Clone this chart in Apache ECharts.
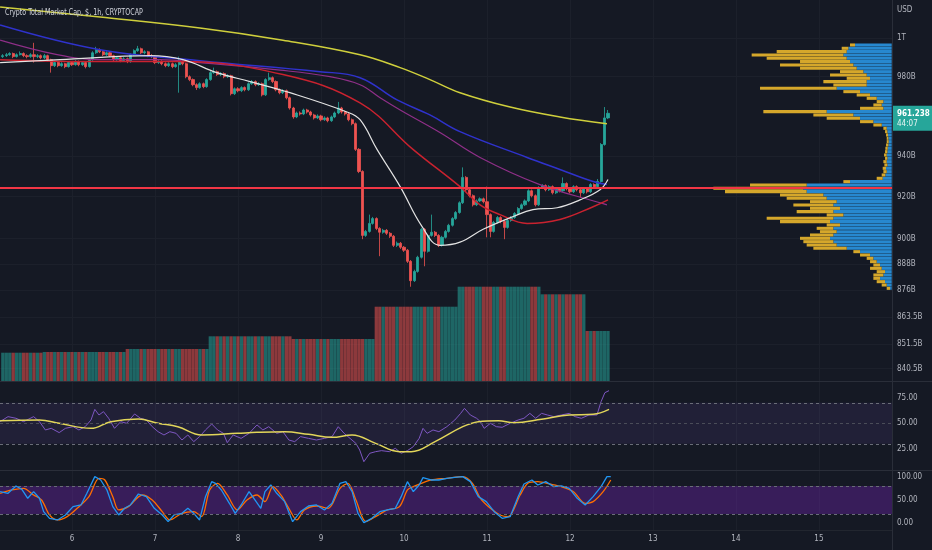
<!DOCTYPE html>
<html>
<head>
<meta charset="utf-8">
<title>Crypto Total Market Cap, $, 1h</title>
<script src="https://cdn.jsdelivr.net/npm/echarts@6/dist/echarts.min.js"></script>
<style>
html, body { margin: 0; padding: 0; background: #151924; }
#chart { width: 932px; height: 550px; }
</style>
</head>
<body>
<div id="chart"></div>
<script>
// hourly candles, hour 0 = day 6 00:00, values in billions USD
const firstHour = -20;
const opens = [
  990.3, 990.8, 991.3, 991.9, 990.3, 991.3, 991.9, 990.8, 990.3, 991.3,
  990.3, 990.8, 989.7, 990.8, 988.7, 985.6, 987.2, 985.6, 986.6, 985.1,
  987.2, 986.1, 987.7, 986.1, 987.2, 985.1, 988.7, 992.3, 993.9, 992.8,
  991.3, 992.3, 990.8, 988.7, 989.7, 988.2, 989.2, 987.7, 991.3, 993.4,
  994.4, 992.3, 992.8, 990.8, 990.3, 987.2, 987.7, 986.6, 985.6, 986.6,
  985.1, 986.1, 987.7, 986.6, 979.9, 978.4, 975.8, 974.3, 976.3, 974.8,
  978.4, 982.0, 982.5, 981.0, 981.5, 979.9, 980.4, 971.2, 973.7, 972.7,
  974.3, 973.2, 976.3, 977.4, 975.8, 976.3, 970.6, 978.4, 979.4, 977.4,
  973.2, 971.7, 972.7, 969.1, 963.9, 959.4, 961.4, 960.9, 962.9, 961.9,
  960.4, 958.9, 959.9, 958.0, 958.9, 957.5, 959.4, 961.4, 963.9, 961.9,
  960.9, 958.0, 956.0, 943.2, 932.3, 901.5, 903.4, 907.2, 909.5, 904.8,
  903.0, 903.9, 902.5, 901.1, 896.8, 897.8, 895.9, 894.5, 889.3, 880.3,
  884.6, 891.2, 904.4, 894.0, 901.5, 903.0, 901.5, 896.8, 900.6, 903.4,
  906.3, 909.5, 912.4, 917.1, 929.4, 923.4, 920.5, 916.1, 918.0, 919.0,
  917.6, 911.4, 903.4, 907.7, 910.0, 908.1, 905.3, 908.6, 910.0, 911.9,
  914.3, 916.1, 918.0, 922.9, 920.5, 916.1, 924.4, 925.4, 923.4, 924.9,
  921.9, 923.9, 922.9, 926.4, 923.9, 922.4, 924.9, 923.4, 921.9, 923.9,
  922.4, 925.9, 924.9, 927.4, 945.6, 958.9
];
const closes = [
  990.8, 991.3, 991.9, 990.3, 991.3, 991.9, 990.8, 990.3, 991.3, 990.3,
  990.8, 989.7, 990.8, 988.7, 985.6, 987.2, 985.6, 986.6, 985.1, 987.2,
  986.1, 987.7, 986.1, 987.2, 985.1, 988.7, 992.3, 993.9, 992.8, 991.3,
  992.3, 990.8, 988.7, 989.7, 988.2, 989.2, 987.7, 991.3, 993.4, 994.4,
  992.3, 992.8, 990.8, 990.3, 987.2, 987.7, 986.6, 985.6, 986.6, 985.1,
  986.1, 987.7, 986.6, 979.9, 978.4, 975.8, 974.3, 976.3, 974.8, 978.4,
  982.0, 982.5, 981.0, 981.5, 979.9, 980.4, 971.2, 973.7, 972.7, 974.3,
  973.2, 976.3, 977.4, 975.8, 976.3, 970.6, 978.4, 979.4, 977.4, 973.2,
  971.7, 972.7, 969.1, 963.9, 959.4, 961.4, 960.9, 962.9, 961.9, 960.4,
  958.9, 959.9, 958.0, 958.9, 957.5, 959.4, 961.4, 963.9, 961.9, 960.9,
  958.0, 956.0, 943.2, 932.3, 901.5, 903.4, 907.2, 909.5, 904.8, 903.0,
  903.9, 902.5, 901.1, 896.8, 897.8, 895.9, 894.5, 889.3, 880.3, 884.6,
  891.2, 904.4, 894.0, 901.5, 903.0, 901.5, 896.8, 900.6, 903.4, 906.3,
  909.5, 912.4, 917.1, 929.4, 923.4, 920.5, 916.1, 918.0, 919.0, 917.6,
  911.4, 903.4, 907.7, 910.0, 908.1, 905.3, 908.6, 910.0, 911.9, 914.3,
  916.1, 918.0, 922.9, 920.5, 916.1, 924.4, 925.4, 923.4, 924.9, 921.9,
  923.9, 922.9, 926.4, 923.9, 922.4, 924.9, 923.4, 921.9, 923.9, 922.4,
  925.9, 924.9, 927.4, 945.6, 958.9, 961.238
];
const highs = [
  991.6, 992.2, 992.6, 992.4, 992.0, 993.0, 992.5, 991.5, 992.1, 997.5,
  991.6, 991.4, 991.7, 991.3, 989.2, 987.9, 987.8, 987.4, 987.1, 987.9,
  987.8, 988.5, 988.3, 988.0, 987.9, 989.4, 993.1, 995.4, 994.6, 993.4,
  993.0, 992.9, 991.3, 990.5, 990.3, 990.0, 989.8, 992.0, 994.1, 995.9,
  995.0, 993.6, 993.3, 991.6, 990.9, 988.5, 988.4, 987.3, 987.4, 987.2,
  986.9, 990.3, 988.4, 987.1, 980.6, 979.0, 976.5, 977.0, 976.9, 979.1,
  982.8, 984.6, 983.1, 982.3, 982.1, 981.2, 980.9, 974.4, 974.5, 975.0,
  974.9, 977.0, 978.2, 978.0, 977.1, 976.9, 979.1, 982.0, 980.0, 978.0,
  973.9, 973.5, 973.3, 969.7, 964.5, 962.1, 962.2, 963.6, 963.5, 962.5,
  961.0, 960.7, 960.5, 959.7, 959.5, 960.1, 962.1, 967.0, 964.5, 962.6,
  961.5, 958.6, 956.6, 943.8, 932.9, 904.1, 911.4, 910.3, 910.1, 905.4,
  904.6, 904.5, 903.1, 901.7, 898.6, 898.4, 896.5, 895.1, 889.9, 885.4,
  891.9, 905.1, 905.0, 902.2, 911.4, 903.6, 902.1, 901.3, 904.1, 907.0,
  910.2, 913.1, 917.8, 934.3, 930.0, 924.0, 921.1, 918.7, 919.7, 919.6,
  924.9, 912.0, 908.4, 910.7, 910.6, 908.7, 909.3, 910.7, 912.6, 915.0,
  916.8, 918.7, 923.6, 923.5, 921.1, 925.1, 926.1, 926.0, 925.6, 925.5,
  924.6, 924.5, 929.4, 927.0, 924.5, 925.6, 925.5, 924.0, 924.6, 924.5,
  926.6, 926.5, 928.6, 946.3, 964.4, 962.9
];
const lows = [
  989.6, 990.1, 990.7, 989.5, 989.8, 990.9, 990.0, 989.4, 989.7, 987.2,
  989.5, 988.9, 989.0, 987.9, 982.0, 984.9, 984.8, 985.0, 984.3, 984.6,
  985.4, 985.6, 985.3, 985.5, 984.2, 984.6, 988.1, 991.7, 992.1, 990.6,
  990.7, 990.1, 987.9, 988.1, 987.4, 987.6, 986.9, 987.1, 990.7, 992.8,
  991.6, 991.5, 990.0, 989.5, 986.4, 986.5, 985.8, 984.8, 984.9, 984.3,
  984.5, 971.7, 985.8, 979.1, 977.6, 975.0, 973.1, 973.7, 974.0, 974.2,
  977.8, 981.3, 980.3, 980.2, 979.1, 979.2, 970.3, 970.5, 971.9, 972.0,
  972.4, 972.6, 975.7, 975.0, 975.1, 969.8, 970.0, 977.8, 976.6, 972.4,
  970.9, 971.0, 968.3, 963.1, 958.5, 958.8, 960.1, 960.3, 961.1, 959.6,
  958.1, 958.3, 957.2, 957.4, 956.7, 956.9, 958.8, 960.8, 961.1, 960.1,
  957.2, 955.2, 942.4, 931.5, 899.7, 900.8, 902.8, 906.6, 904.0, 891.7,
  902.3, 901.7, 900.3, 896.0, 896.0, 895.1, 893.7, 888.5, 877.5, 879.7,
  884.0, 890.6, 887.0, 893.4, 900.9, 900.7, 896.0, 896.2, 900.0, 902.8,
  905.7, 908.9, 911.8, 916.5, 922.6, 919.7, 915.3, 915.5, 917.4, 916.8,
  900.6, 900.6, 902.8, 907.1, 907.3, 899.7, 904.7, 908.0, 909.4, 911.3,
  913.7, 915.5, 917.4, 919.7, 915.3, 915.5, 923.8, 922.6, 922.8, 921.1,
  921.3, 922.1, 922.3, 923.1, 921.6, 921.8, 922.6, 919.5, 921.3, 921.6,
  921.8, 924.1, 924.3, 926.8, 945.0, 958.3
];

// stepped volume columns: first hour of each block and its value
const periodStarts = [-20, -8, 16, 40, 64, 88, 112, 136, 149];
const periodVolume = [56.6, 58.0, 64.0, 89.4, 84.0, 148.6, 188.6, 173.4, 100.0];

// moving averages [hour, price]
const yellowMA = [[-20.8, 1016.4], [8.1, 1011.1], [37.0, 1005.3], [61.0, 998.9], [83.3, 991.3], [94.9, 984.6],
  [103.5, 978.4], [112.2, 971.7], [126.7, 964.4], [141.1, 959.4], [154.7, 956.0]];
const blueMA = [[-20.8, 1006.9], [8.1, 993.9], [37.0, 988.2], [71.7, 982.5], [83.3, 979.4], [94.0, 968.0],
  [103.5, 960.4], [112.2, 952.0], [131.6, 939.2], [141.1, 933.3], [150.7, 927.4], [154.7, 925.9]];
const purpleMA = [[-20.8, 998.9], [-4.3, 991.3], [8.1, 988.7], [25.4, 988.7], [37.0, 987.2], [60.2, 983.3],
  [74.6, 979.9], [83.3, 975.8], [89.1, 969.1], [94.9, 962.9], [106.4, 951.6], [118.0, 939.2], [135.3, 925.9],
  [152.7, 917.1], [154.7, 916.1]];
const redMA = [[-20.8, 988.7], [8.1, 987.7], [31.2, 987.7], [61.0, 981.0], [83.3, 966.5], [98.6, 943.2],
  [112.2, 924.9], [118.0, 916.1], [123.8, 911.4], [131.6, 907.2], [141.1, 909.1], [150.7, 915.2], [155.0, 918.5]];
const whiteMA = [[-20.8, 987.2], [-3.5, 988.7], [22.6, 990.8], [32.1, 988.7], [41.9, 982.0], [51.5, 977.4],
  [63.0, 971.7], [79.5, 961.9], [83.3, 958.0], [88.2, 943.2], [94.9, 924.9], [101.2, 905.8], [106.4, 896.8],
  [112.2, 898.3], [118.9, 904.4], [127.6, 910.5], [133.3, 913.8], [140.3, 914.7], [146.9, 918.5],
  [152.7, 923.4], [155.0, 928.4]];

const supportLevel = 924.2;
const lastPrice = 961.238;
const countdown = '44:07';

// RSI and its average [hour, value]
const rsiLine = [[-20.8, 51.6], [-18.5, 56.5], [-16.2, 54.9], [-14.0, 51.6], [-11.1, 56.5], [-9.4, 51.6],
  [-7.7, 43.5], [-6.0, 45.1], [-3.7, 40.9], [-1.9, 45.1], [0.3, 46.7], [2.0, 43.5], [3.8, 46.7], [5.5, 53.2],
  [6.6, 63.6], [7.8, 58.1], [9.1, 61.4], [10.6, 54.9], [12.3, 45.1], [14.1, 51.6], [15.8, 50.0], [18.1, 59.1],
  [19.8, 54.9], [21.5, 53.2], [23.2, 46.7], [24.9, 41.8], [26.6, 38.6], [28.3, 41.8], [30.1, 40.2], [31.8, 33.7],
  [33.5, 38.6], [35.2, 32.1], [36.9, 37.0], [38.6, 43.5], [40.4, 49.3], [42.1, 43.5], [43.8, 40.2], [44.9, 31.1],
  [46.6, 38.6], [48.9, 35.3], [51.2, 40.2], [53.5, 48.4], [55.2, 43.5], [56.9, 46.7], [59.2, 40.2], [61.0, 41.8],
  [62.7, 33.7], [64.4, 32.1], [66.1, 37.0], [68.4, 35.3], [70.7, 33.7], [73.0, 35.3], [75.2, 37.0], [77.0, 46.7],
  [78.7, 40.2], [80.4, 35.3], [82.1, 30.4], [83.2, 23.9], [84.4, 12.5], [86.1, 20.7], [87.8, 22.3], [89.5, 23.3],
  [91.8, 22.3], [93.5, 25.6], [95.2, 20.7], [97.0, 23.3], [98.7, 27.2], [100.4, 35.3], [101.5, 45.1], [102.7, 40.2],
  [104.4, 43.5], [106.1, 41.8], [108.4, 46.7], [110.7, 53.2], [112.4, 59.7], [113.5, 64.6], [115.2, 58.1],
  [117.0, 54.9], [118.1, 51.6], [119.2, 45.1], [121.0, 50.0], [122.7, 46.7], [124.4, 46.1], [126.7, 50.0],
  [129.0, 53.2], [130.7, 54.9], [132.4, 59.7], [134.1, 54.9], [135.8, 59.7], [137.5, 58.1], [139.3, 56.5],
  [141.5, 58.1], [143.8, 59.7], [145.5, 56.5], [147.3, 54.9], [149.5, 58.1], [151.8, 58.1], [153.0, 71.1],
  [154.1, 79.9], [155.3, 81.9]];
const rsiAverage = [[-20.8, 52.6], [-9.4, 53.2], [-3.7, 50.0], [5.5, 45.1], [11.2, 51.6], [19.2, 54.2],
  [24.9, 50.0], [30.6, 46.7], [37.5, 38.6], [47.8, 40.2], [53.5, 41.2], [61.5, 41.8], [68.4, 39.2], [75.2, 36.3],
  [81.0, 38.6], [87.8, 30.4], [94.7, 22.3], [98.1, 22.3], [105.0, 32.1], [113.0, 46.7], [117.5, 51.6],
  [123.3, 52.6], [127.8, 50.6], [135.8, 53.9], [143.8, 58.1], [150.7, 58.8], [155.3, 63.6]];

// stochastic %K and %D [hour, value]
const stochK = [[-20.8, 67.8], [-18.5, 64.3], [-16.2, 80.0], [-14.5, 72.8], [-12.8, 53.6], [-11.1, 67.8],
  [-9.4, 53.6], [-8.2, 25.0], [-6.5, 10.7], [-4.2, 7.2], [-1.9, 17.9], [0.3, 35.7], [2.6, 39.3], [4.3, 64.3],
  [6.6, 100.0], [8.3, 92.8], [10.1, 71.4], [11.8, 35.7], [13.5, 17.9], [15.2, 32.2], [16.9, 39.3], [19.2, 62.8],
  [21.5, 57.1], [23.8, 32.2], [26.1, 17.9], [27.8, 3.6], [29.5, 17.9], [31.8, 21.4], [33.5, 32.2], [35.2, 21.4],
  [36.9, 7.2], [38.6, 57.1], [40.4, 89.3], [41.5, 85.7], [43.2, 71.4], [45.5, 42.9], [47.2, 21.4], [48.9, 39.3],
  [51.2, 67.8], [52.9, 50.0], [54.6, 32.2], [55.8, 67.8], [57.5, 82.1], [59.2, 64.3], [61.5, 46.4], [63.8, 3.6],
  [66.1, 25.0], [68.4, 37.1], [70.7, 39.3], [73.0, 28.6], [75.2, 42.9], [77.5, 85.7], [79.2, 89.3], [81.0, 67.8],
  [82.7, 21.4], [84.4, 1.5], [86.7, 10.7], [89.0, 25.0], [91.2, 28.6], [93.5, 32.2], [95.2, 57.1], [97.0, 89.3],
  [98.7, 67.8], [100.4, 82.1], [101.5, 97.8], [103.8, 92.8], [106.1, 92.8], [108.4, 96.4], [110.7, 98.5],
  [113.0, 100.0], [115.2, 89.3], [117.5, 57.1], [119.8, 46.4], [122.1, 25.0], [124.4, 10.7], [126.7, 14.3],
  [129.0, 57.1], [130.7, 84.3], [133.0, 92.8], [134.7, 82.1], [137.0, 89.3], [139.3, 78.6], [141.5, 80.0],
  [143.8, 75.0], [146.1, 53.6], [148.4, 39.3], [150.7, 57.1], [153.0, 78.6], [154.7, 100.0], [155.8, 100.0]];
const stochD = [[-20.8, 64.3], [-17.4, 71.4], [-14.0, 75.0], [-11.1, 60.7], [-8.8, 50.0], [-6.5, 17.9],
  [-4.2, 7.2], [-1.4, 14.3], [1.5, 32.2], [4.9, 57.1], [7.8, 96.4], [9.5, 92.8], [11.8, 57.1], [13.5, 28.6],
  [16.3, 35.7], [20.3, 60.7], [23.2, 50.0], [26.1, 25.0], [28.3, 7.2], [31.8, 21.4], [35.2, 25.0], [37.5, 14.3],
  [39.8, 71.4], [42.1, 85.7], [44.9, 60.7], [47.8, 28.6], [50.6, 50.0], [53.5, 60.7], [55.8, 46.4], [58.1, 78.6],
  [60.4, 60.7], [62.7, 32.2], [65.0, 7.2], [67.2, 28.6], [70.7, 37.1], [74.1, 32.2], [77.5, 75.0], [79.8, 85.7],
  [82.1, 50.0], [85.0, 3.6], [87.8, 14.3], [91.2, 28.6], [94.7, 35.7], [97.0, 71.4], [98.7, 78.6], [101.0, 85.7],
  [103.8, 92.8], [108.4, 96.4], [113.0, 100.0], [115.8, 85.7], [118.1, 53.6], [121.0, 32.2], [123.8, 17.9],
  [126.1, 14.3], [129.6, 60.7], [131.8, 85.7], [134.7, 89.3], [138.1, 84.3], [141.5, 78.6], [145.0, 67.8],
  [148.4, 42.9], [150.7, 46.4], [153.6, 67.8], [155.8, 92.8]];

// visible range volume profile, rows from top (about 997B) to bottom (about 876B)
const vpUp = [110, 130, 135, 145, 135, 125, 115, 105, 85, 75, 65, 75, 75, 165, 95, 65, 45, 25, 30, 25,
  195, 115, 95, 55, 30, 15, 13, 11, 10, 9, 10, 12, 13, 15, 13, 15, 13, 17, 15, 19,
  27, 125, 255, 265, 255, 205, 195, 165, 175, 155, 175, 145, 175, 185, 155, 175, 165, 175, 185, 175,
  165, 135, 95, 65, 55, 45, 35, 30, 20, 25, 35, 20, 15, 5];
const vpDown = [15, 20, 210, 275, 240, 150, 220, 170, 70, 110, 70, 130, 100, 230, 50, 40, 30, 20, 25, 70,
  190, 120, 100, 40, 25, 10, 7, 6, 5, 6, 7, 7, 7, 8, 7, 10, 9, 10, 10, 11,
  18, 20, 170, 270, 245, 130, 120, 80, 120, 90, 110, 50, 200, 150, 40, 50, 50, 70, 90, 90,
  90, 100, 20, 30, 20, 20, 20, 35, 25, 30, 20, 25, 15, 10];

// axis labels
const priceTicks = [1000, 980, 940, 920, 900, 888, 876, 863.5, 851.5, 840.5];
const priceTickLabels = ['1T', '980B', '940B', '920B', '900B', '888B', '876B', '863.5B', '851.5B', '840.5B'];
const dayTicks = [0, 24, 48, 72, 96, 120, 144, 168, 192, 216];
const dayLabels = ['6', '7', '8', '9', '10', '11', '12', '13', '14', '15'];
const rsiTicks = [25, 50, 75];
const stochTicks = [0, 50, 100];

const FONT = "'Liberation Sans Narrow', 'DejaVu Sans Condensed', 'Liberation Sans', sans-serif";
const TEXT = '#b2b5be';
const GRID_LINE = '#1c202b';
const UP = '#26a69a', DOWN = '#ef5350';

const hours = opens.map((_, i) => firstHour + i);
const candles = hours.map((h, i) => [h, opens[i], closes[i], lows[i], highs[i]]);
const volumes = hours.map((h, i) => {
  let p = 0;
  while (p + 1 < periodStarts.length && h >= periodStarts[p + 1]) p++;
  return {
    value: [h, periodVolume[p]],
    itemStyle: { color: closes[i] >= opens[i] ? 'rgba(38,166,154,0.55)' : 'rgba(239,83,80,0.55)' }
  };
});

const xMin = -20.82, xMax = 237.13;
function timeAxis(gridIndex, withLabels) {
  return {
    type: 'value', gridIndex: gridIndex, min: xMin, max: xMax,
    axisLine: { show: false },
    axisTick: { show: false, customValues: dayTicks },
    axisLabel: {
      show: withLabels, customValues: dayTicks, color: TEXT, fontFamily: FONT, fontSize: 8, margin: 5,
      formatter: v => dayLabels[dayTicks.indexOf(Math.round(v))]
    },
    splitLine: { show: true, lineStyle: { color: GRID_LINE, width: 1 } }
  };
}
function maLine(data, color, width) {
  return {
    type: 'line', xAxisIndex: 0, yAxisIndex: 0, data: data, smooth: 0.4,
    showSymbol: false, silent: true, z: 4,
    lineStyle: { color: color, width: width }
  };
}
const dashed = { type: [3, 3], color: '#6a6d78', width: 1 };

const chart = echarts.init(document.getElementById('chart'), null, { renderer: 'canvas' });
chart.setOption({
  backgroundColor: '#151924',
  animation: false,
  grid: [
    { left: 0, right: 40, top: 0, height: 381 },
    { left: 0, right: 40, top: 381, height: 89 },
    { left: 0, right: 40, top: 470, height: 60 },
    { left: 700, right: 40.3, top: 43.3, height: 246.7 }
  ],
  xAxis: [
    timeAxis(0, false),
    timeAxis(1, false),
    timeAxis(2, true),
    { type: 'value', gridIndex: 3, min: 0, max: 575, inverse: true, show: false }
  ],
  yAxis: [
    {
      type: 'log', logBase: 10, gridIndex: 0, min: 835.1, max: 1020.2, position: 'right',
      axisLine: { show: false },
      axisTick: { show: false, customValues: priceTicks },
      axisLabel: {
        customValues: priceTicks, color: TEXT, fontFamily: FONT, fontSize: 8, margin: 5,
        formatter: v => {
          const i = priceTicks.findIndex(t => Math.abs(t - v) < 0.05);
          return i >= 0 ? priceTickLabels[i] : '';
        }
      },
      splitLine: { show: true, lineStyle: { color: GRID_LINE } }
    },
    { type: 'value', gridIndex: 0, min: 0, max: 762, show: false },
    {
      type: 'value', gridIndex: 1, min: 4.4, max: 91.3, position: 'right',
      axisLine: { show: false }, axisTick: { show: false },
      axisLabel: { customValues: rsiTicks, color: TEXT, fontFamily: FONT, fontSize: 8, margin: 5, formatter: v => v.toFixed(2) },
      splitLine: { show: false }
    },
    {
      type: 'value', gridIndex: 2, min: -14.3, max: 114.2, position: 'right',
      axisLine: { show: false }, axisTick: { show: false },
      axisLabel: { customValues: stochTicks, color: TEXT, fontFamily: FONT, fontSize: 8, margin: 5, formatter: v => v.toFixed(2) },
      splitLine: { show: false }
    },
    { type: 'category', gridIndex: 3, inverse: true, data: vpUp.map((_, i) => i), show: false }
  ],
  series: [
    {
      name: 'Volume', type: 'bar', xAxisIndex: 0, yAxisIndex: 1, data: volumes,
      barWidth: 3.3, silent: true, z: 1
    },
    {
      name: 'Price', type: 'candlestick', xAxisIndex: 0, yAxisIndex: 0, data: candles,
      encode: { x: 0, y: [1, 2, 3, 4] }, barWidth: 2.6, silent: true, z: 3,
      itemStyle: { color: UP, color0: DOWN, borderColor: UP, borderColor0: DOWN, borderWidth: 0.8 },
      markLine: {
        silent: true, symbol: ['none', 'none'], animation: false,
        data: [
          { yAxis: supportLevel, lineStyle: { color: '#f23645', width: 2, type: 'solid' }, label: { show: false } },
          {
            yAxis: lastPrice, lineStyle: { color: 'rgba(38,166,154,0)', width: 1, type: 'dotted' },
            label: {
              show: true, position: 'end', distance: 1, offset: [0, 5],
              backgroundColor: UP, padding: [3, 4, 2, 4], width: 36,
              formatter: '{p|961.238}\n{t|' + countdown + '}',
              rich: {
                p: { color: '#ffffff', fontFamily: FONT, fontSize: 8, fontWeight: 'bold', lineHeight: 10 },
                t: { color: '#e6f4f2', fontFamily: FONT, fontSize: 8, lineHeight: 10 }
              }
            }
          }
        ]
      }
    },
    maLine(yellowMA, '#cfcf3c', 1.5),
    maLine(blueMA, '#2f32cc', 1.5),
    maLine(purpleMA, '#8f2f88', 1.2),
    maLine(redMA, '#c9222f', 1.5),
    maLine(whiteMA, '#e3e3e3', 1.2),
    {
      name: 'RSI', type: 'line', xAxisIndex: 1, yAxisIndex: 2, data: rsiLine, showSymbol: false, silent: true, z: 3,
      lineStyle: { color: '#7e57c2', width: 1 },
      markArea: { silent: true, itemStyle: { color: 'rgba(126,87,194,0.12)' }, data: [[{ yAxis: 30 }, { yAxis: 70 }]] },
      markLine: {
        silent: true, symbol: ['none', 'none'], label: { show: false }, lineStyle: dashed,
        data: [{ yAxis: 70 }, { yAxis: 30 }, { yAxis: 50, lineStyle: { type: [3, 3], color: '#4a4c58', width: 1 } }]
      }
    },
    {
      name: 'RSI MA', type: 'line', xAxisIndex: 1, yAxisIndex: 2, data: rsiAverage, smooth: 0.4,
      showSymbol: false, silent: true, z: 4, lineStyle: { color: '#e2d65a', width: 1.5 }
    },
    {
      name: '%K', type: 'line', xAxisIndex: 2, yAxisIndex: 3, data: stochK, showSymbol: false, silent: true, z: 4,
      lineStyle: { color: '#2196f3', width: 1.3 },
      markArea: { silent: true, itemStyle: { color: 'rgba(126,40,200,0.33)' }, data: [[{ yAxis: 20 }, { yAxis: 80 }]] },
      markLine: { silent: true, symbol: ['none', 'none'], label: { show: false }, lineStyle: dashed, data: [{ yAxis: 80 }, { yAxis: 20 }] }
    },
    {
      name: '%D', type: 'line', xAxisIndex: 2, yAxisIndex: 3, data: stochD, smooth: 0.3,
      showSymbol: false, silent: true, z: 3, lineStyle: { color: '#ff6d00', width: 1.3 }
    },
    {
      name: 'VP up', type: 'bar', xAxisIndex: 3, yAxisIndex: 4, data: vpUp, stack: 'vp',
      barCategoryGap: '8%', silent: true, z: 1, itemStyle: { color: '#2788cf' }
    },
    {
      name: 'VP down', type: 'bar', xAxisIndex: 3, yAxisIndex: 4, data: vpDown, stack: 'vp',
      barCategoryGap: '8%', silent: true, z: 1, itemStyle: { color: '#d5a72b' }
    }
  ],
  graphic: [
    { type: 'line', shape: { x1: 0, y1: 381.5, x2: 932, y2: 381.5 }, style: { stroke: '#2a2e39', lineWidth: 1 }, z: 10, silent: true },
    { type: 'line', shape: { x1: 0, y1: 470.5, x2: 932, y2: 470.5 }, style: { stroke: '#2a2e39', lineWidth: 1 }, z: 10, silent: true },
    { type: 'line', shape: { x1: 0, y1: 530.5, x2: 892, y2: 530.5 }, style: { stroke: '#22262f', lineWidth: 1 }, z: 10, silent: true },
    { type: 'line', shape: { x1: 892.5, y1: 0, x2: 892.5, y2: 550 }, style: { stroke: '#2a2e39', lineWidth: 1 }, z: 10, silent: true },
    {
      type: 'text', x: 5, y: 13, scaleX: 0.83, z: 100, silent: true,
      style: { text: 'Crypto Total Market Cap, $, 1h, CRYPTOCAP', fill: '#d1d4dc', font: '8.5px ' + FONT, verticalAlign: 'middle' }
    },
    {
      type: 'text', x: 897, y: 10, z: 100, silent: true,
      style: { text: 'USD', fill: TEXT, font: '8px ' + FONT, verticalAlign: 'middle' }
    }
  ]
});
</script>
</body>
</html>
